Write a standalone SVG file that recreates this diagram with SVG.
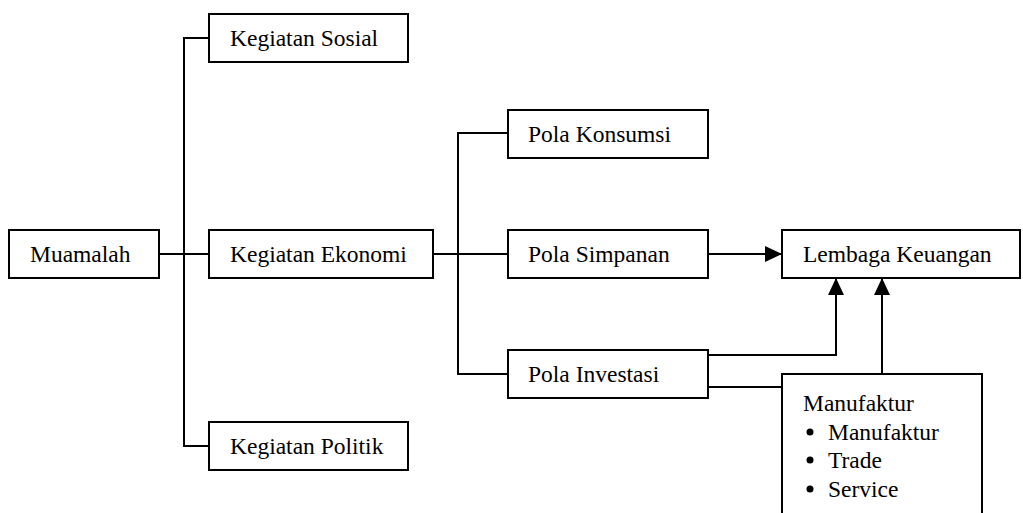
<svg xmlns="http://www.w3.org/2000/svg" width="1023" height="513" viewBox="0 0 1023 513">
<style>
.box{fill:#fff;stroke:#000;stroke-width:2}
.t{font-family:"Liberation Serif","Times New Roman",serif;font-size:23.5px;fill:#000}
.c{fill:none;stroke:#000;stroke-width:2}
</style>
<defs>
<marker id="ah" markerWidth="17" markerHeight="16" refX="17" refY="8" orient="auto" markerUnits="userSpaceOnUse">
<path d="M0,0 L17,8 L0,16 Z" fill="#000"/>
</marker>
</defs>
<rect width="1023" height="513" fill="#fff"/>
<g id="connectors">
<path class="c" d="M209,38 H184 V446 H209"/>
<path class="c" d="M159,254 H209"/>
<path class="c" d="M433,254 H508"/>
<path class="c" d="M508,133 H458 V374 H508"/>
<path class="c" d="M708,254 H782" marker-end="url(#ah)"/>
<path class="c" d="M708,355 H836 V278" marker-end="url(#ah)"/>
<path class="c" d="M882,374 V278" marker-end="url(#ah)"/>
<path class="c" d="M708,387 H782"/>
</g>
<g id="muamalah"><rect class="box" x="9" y="230" width="150" height="48"/><text class="t" x="30" y="262">Muamalah</text></g>
<g id="kegiatan-sosial"><rect class="box" x="209" y="14" width="199" height="48"/><text class="t" x="230" y="46">Kegiatan Sosial</text></g>
<g id="kegiatan-ekonomi"><rect class="box" x="209" y="230" width="224" height="48"/><text class="t" x="230" y="262">Kegiatan Ekonomi</text></g>
<g id="kegiatan-politik"><rect class="box" x="209" y="422" width="199" height="48"/><text class="t" x="230" y="454">Kegiatan Politik</text></g>
<g id="pola-konsumsi"><rect class="box" x="508" y="110" width="200" height="48"/><text class="t" x="528" y="142">Pola Konsumsi</text></g>
<g id="pola-simpanan"><rect class="box" x="508" y="230" width="200" height="48"/><text class="t" x="528" y="262">Pola Simpanan</text></g>
<g id="pola-investasi"><rect class="box" x="508" y="350" width="200" height="48"/><text class="t" x="528" y="382">Pola Investasi</text></g>
<g id="lembaga-keuangan"><rect class="box" x="782" y="230" width="238" height="48"/><text class="t" x="803" y="262">Lembaga Keuangan</text></g>
<g id="manufaktur">
<rect class="box" x="782" y="374" width="200" height="150"/>
<text class="t" x="803" y="411">Manufaktur</text>
<circle cx="810" cy="432" r="3.5" fill="#000"/><text class="t" x="828" y="440">Manufaktur</text>
<circle cx="810" cy="460" r="3.5" fill="#000"/><text class="t" x="828" y="468">Trade</text>
<circle cx="810" cy="489" r="3.5" fill="#000"/><text class="t" x="828" y="497">Service</text>
</g>
</svg>
